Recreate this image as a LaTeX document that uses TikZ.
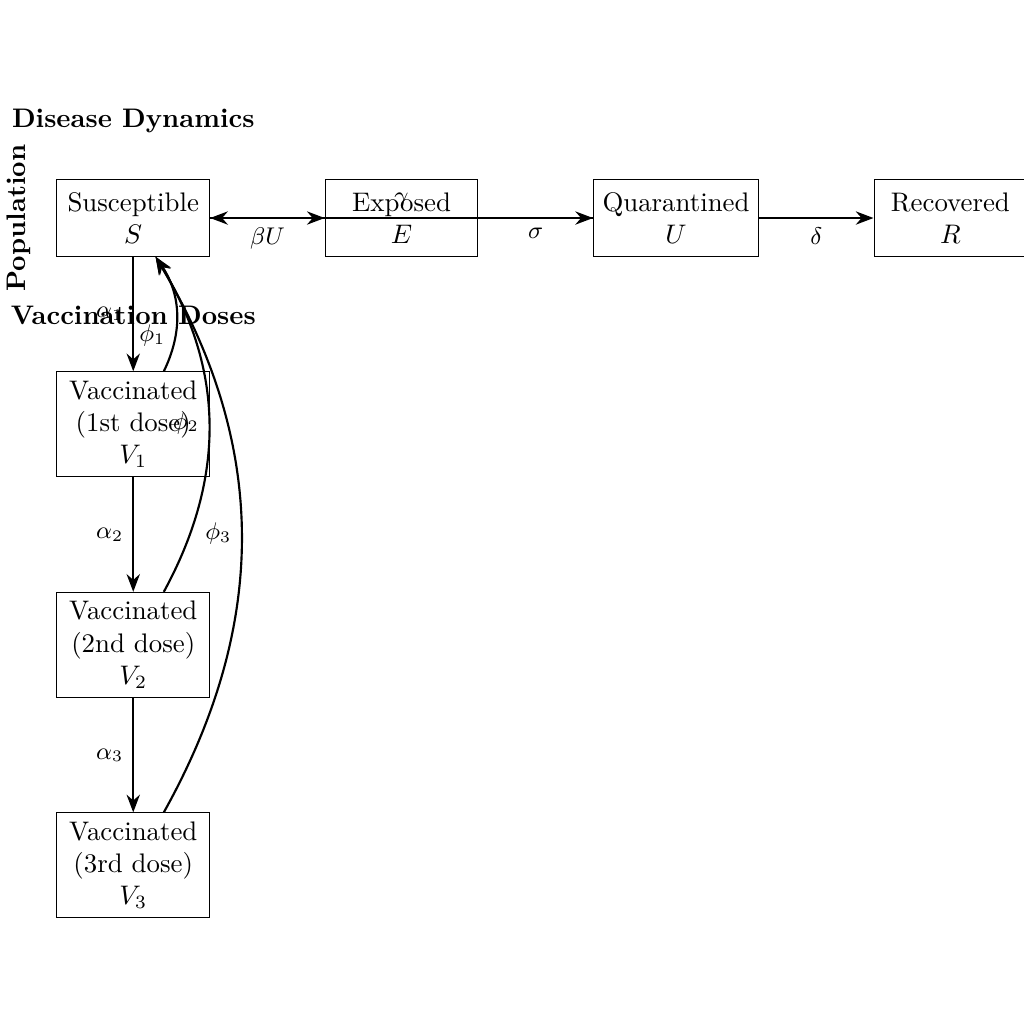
\documentclass[tikz,border=0pt]{standalone}
\usepackage{amsmath}
\usetikzlibrary{positioning, arrows.meta}

\begin{document}
\begin{tikzpicture}[
  node distance=1.5cm,
  comp/.style={draw, minimum width=2cm, minimum height=1cm, align=center},
  flow/.style={-Stealth, thick},
  rate/.style={font=\small},
  title/.style={font=\bfseries}
]
  \useasboundingbox (-1.745,-10.555) rectangle (11.665,2.855);
  % compartments
  \node[comp] (S) {Susceptible\\$S$};
  \node[comp, right=of S] (E) {Exposed\\$E$};
  \node[comp, right=of E] (U) {Quarantined\\$U$};
  \node[comp, right=of U] (R) {Recovered\\$R$};
  \node[comp, below=of S] (V1) {Vaccinated\\(1st dose)\\$V_1$};
  \node[comp, below=of V1] (V2) {Vaccinated\\(2nd dose)\\$V_2$};
  \node[comp, below=of V2] (V3) {Vaccinated\\(3rd dose)\\$V_3$};
  % section titles
  \node[title] (dis) at (0,1.27) {Disease Dynamics};
  \node[title, rotate=90] (pop) at (-1.5,0) {Population};
  \node[title] (vac) at (0,-1.27) {Vaccination Doses};
  % disease flows
  \draw[flow] (S) -- node[rate, below] {$\beta U$} (E);
  \draw[flow] (E) -- node[rate, below] {$\sigma$} (U);
  \draw[flow] (U) -- node[rate, above] {$\gamma$} (S);
  \draw[flow] (U) -- node[rate, below] {$\delta$} (R);
  % vaccination flows
  \draw[flow] (S) -- node[rate, left] {$\alpha_1$} (V1);
  \draw[flow] (V1) -- node[rate, left] {$\alpha_2$} (V2);
  \draw[flow] (V2) -- node[rate, left] {$\alpha_3$} (V3);
  \draw[flow] (V1) to[bend right] node[rate, left, pos=0.3] {$\phi_1$} (S);
  \draw[flow] (V2) to[bend right] node[rate, left] {$\phi_2$} (S);
  \draw[flow] (V3) to[bend right] node[rate, left] {$\phi_3$} (S);
\end{tikzpicture}
\end{document}
